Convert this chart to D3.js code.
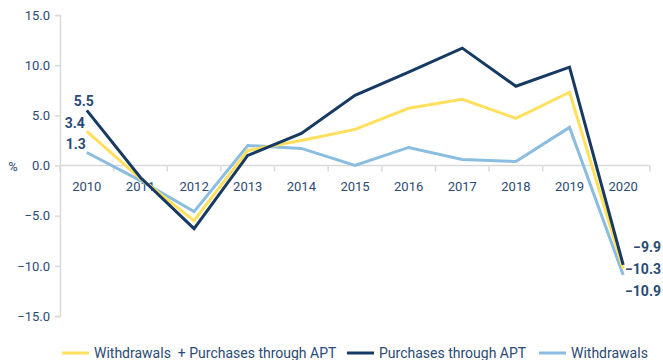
<!DOCTYPE html>
<html>
<head>
<meta charset="utf-8">
<script src="https://cdn.jsdelivr.net/npm/d3@7"></script>
<style>
  html, body { margin: 0; padding: 0; background: #fff; }
  svg { display: block; font-family: Roboto, "Noto Sans", sans-serif; }
</style>
</head>
<body>
<svg id="chart" width="663" height="360"></svg>
<script>
// Annual growth rates, %
const years = ["2010","2011","2012","2013","2014","2015","2016","2017","2018","2019","2020"];
const withdrawalsPlusApt = [3.4, -1.3, -5.5, 1.5, 2.5, 3.6, 5.7, 6.6, 4.7, 7.3, -10.3];
const purchasesApt       = [5.5, -1.2, -6.3, 1.0, 3.2, 7.0, 9.3, 11.7, 7.9, 9.8, -9.9];
const withdrawals        = [1.3, -1.5, -4.6, 2.0, 1.7, 0.0, 1.8, 0.6, 0.4, 3.8, -10.9];
const yTicks = [15, 10, 5, 0, -5, -10, -15];
const seriesNames = ["Withdrawals  + Purchases through APT", "Purchases through APT", "Withdrawals"];

const colors = ["#FFDF5C", "#173A63", "#8BBDE0"];
const textColor = "#2B4A74";
const gridColor = "#D9D9D9";

const series = [
  { name: seriesNames[0], values: withdrawalsPlusApt, color: colors[0] },
  { name: seriesNames[1], values: purchasesApt,       color: colors[1] },
  { name: seriesNames[2], values: withdrawals,        color: colors[2] }
];

const svg = d3.select("#chart");
const plotLeft = 60, plotRight = 650, plotTop = 15, plotBottom = 316;

const x = d3.scaleBand().domain(years).range([plotLeft, plotRight]);
const y = d3.scaleLinear().domain([-15, 15]).range([plotBottom, plotTop]);
const cx = d => x(d) + x.bandwidth() / 2;

// y axis
const yAxis = svg.append("g")
  .attr("transform", `translate(${plotLeft},0)`)
  .call(d3.axisLeft(y).tickValues(yTicks).tickFormat(d3.format(".1f")).tickSize(5).tickPadding(5));
yAxis.select(".domain").attr("stroke", gridColor).attr("stroke-width", 1.5);
yAxis.selectAll(".tick line").attr("stroke", gridColor).attr("stroke-width", 1.5);
yAxis.selectAll(".tick text").attr("fill", textColor).attr("font-size", 13).attr("font-family", "Roboto, sans-serif");

// x axis along zero, ticks at category boundaries
const xg = svg.append("g").attr("transform", `translate(0,${y(0)})`);
xg.append("line").attr("x1", plotLeft).attr("x2", plotRight).attr("stroke", gridColor).attr("stroke-width", 1.5);
xg.selectAll("line.b").data(years.concat([null])).join("line")
  .attr("class", "b")
  .attr("x1", (d, i) => plotLeft + i * x.step()).attr("x2", (d, i) => plotLeft + i * x.step())
  .attr("y1", 0).attr("y2", 6)
  .attr("stroke", gridColor).attr("stroke-width", 1.5);
xg.selectAll("text").data(years).join("text")
  .attr("x", d => cx(d)).attr("y", 25)
  .attr("text-anchor", "middle")
  .attr("fill", textColor).attr("font-size", 13)
  .text(d => d);

// unit label
svg.append("text").attr("x", 13).attr("y", y(0) + 5).attr("text-anchor", "middle")
  .attr("fill", textColor).attr("font-size", 13).text("%");

// lines
const line = d3.line().x((d, i) => cx(years[i])).y(d => y(d));
const drawOrder = [series[2], series[0], series[1]];
svg.append("g").selectAll("path").data(drawOrder).join("path")
  .attr("d", s => line(s.values))
  .attr("fill", "none")
  .attr("stroke", s => s.color)
  .attr("stroke-width", 3)
  .attr("stroke-linejoin", "miter");

// value labels at first and last points
const fmt = d3.format(".1f");
const labels = svg.append("g").attr("font-weight", "bold").attr("font-size", 14)
  .attr("fill", textColor).attr("text-anchor", "end");
const first = years[0], last = years[years.length - 1];
labels.append("text").attr("x", cx(first) + 7).attr("y", y(purchasesApt[0]) - 4)
  .text(fmt(purchasesApt[0]));
labels.append("text").attr("x", cx(first) - 2).attr("y", y(withdrawalsPlusApt[0]) - 3)
  .text(fmt(withdrawalsPlusApt[0]));
labels.append("text").attr("x", cx(first) - 1).attr("y", y(withdrawals[0]) - 3)
  .text(fmt(withdrawals[0]));
labels.append("text").attr("x", 661).attr("y", y(purchasesApt[10]) - 13)
  .text(fmt(purchasesApt[10]));
labels.append("text").attr("x", 661).attr("y", y(withdrawalsPlusApt[10]) + 5)
  .text(fmt(withdrawalsPlusApt[10]));
labels.append("text").attr("x", 661).attr("y", y(withdrawals[10]) + 21)
  .text(fmt(withdrawals[10]));

// legend
const legendX = [62, 347, 539];
const lg = svg.append("g").selectAll("g").data(series).join("g")
  .attr("transform", (d, i) => `translate(${legendX[i]},353)`);
lg.append("line").attr("x1", 0).attr("x2", 27).attr("y1", 0).attr("y2", 0)
  .attr("stroke", d => d.color).attr("stroke-width", 3);
lg.append("text").attr("x", 32).attr("y", 5)
  .attr("fill", textColor).attr("font-size", 14)
  .attr("xml:space", "preserve")
  .style("white-space", "pre")
  .text(d => d.name);
</script>
</body>
</html>
